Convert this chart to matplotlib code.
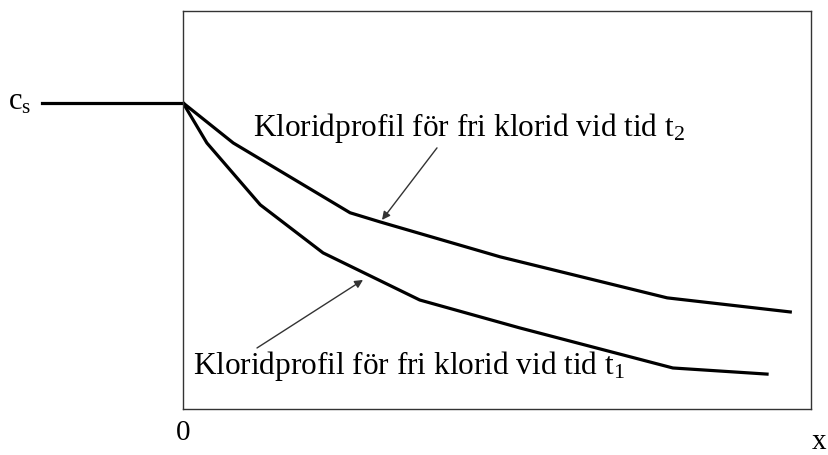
import matplotlib
matplotlib.use("Agg")
import matplotlib.pyplot as plt

plt.rcParams['font.family'] = ['Liberation Serif', 'DejaVu Serif']
plt.rcParams['mathtext.fontset'] = 'custom'
plt.rcParams['mathtext.rm'] = 'Liberation Serif'
plt.rcParams['mathtext.it'] = 'Liberation Serif:italic'

# Profile t2 (upper curve): depth x (relative) and concentration c/cs
x_t2 = [0.0, 0.080, 0.266, 0.314, 0.505, 0.771, 0.967]
c_t2 = [1.0, 0.869, 0.641, 0.611, 0.497, 0.363, 0.317]
# Profile t1 (lower curve)
x_t1 = [0.0, 0.038, 0.123, 0.223, 0.377, 0.536, 0.780, 0.930]
c_t1 = [1.0, 0.869, 0.667, 0.510, 0.356, 0.265, 0.134, 0.114]
# Surface concentration line (outside the concrete)
x_cs = [-0.225, 0.0]
c_cs = [1.0, 1.0]

label_t2 = "Kloridprofil för fri klorid vid tid t$_\\mathrm{2}$"
label_t1 = "Kloridprofil för fri klorid vid tid t$_\\mathrm{1}$"

fig = plt.figure(figsize=(8.29, 4.55), dpi=100)
ax = fig.add_axes([183/829, 1-409/455, (811-183)/829, (409-11)/455])
ax.set_xlim(0, 1)
ax.set_ylim(0, 1.3)
ax.set_xticks([])
ax.set_yticks([])
for s in ax.spines.values():
    s.set_linewidth(1.0)
    s.set_color('#333333')

lw = 2.3
ax.plot(x_t2, c_t2, color='black', lw=lw, solid_joinstyle='round')
ax.plot(x_t1, c_t1, color='black', lw=lw, solid_joinstyle='round')
ax.plot(x_cs, c_cs, color='black', lw=lw, clip_on=False)

def px(xp, yp):
    return ((xp-183)/628, (409-yp)/306)

ax.annotate("", xy=px(382, 220), xytext=px(437, 148),
            arrowprops=dict(arrowstyle='-|>', color='#333333', lw=1.0,
                            mutation_scale=12, shrinkA=0, shrinkB=0))
ax.annotate("", xy=px(363, 280), xytext=px(257, 348),
            arrowprops=dict(arrowstyle='-|>', color='#333333', lw=1.0,
                            mutation_scale=12, shrinkA=0, shrinkB=0))

fs = 22.5
tx, ty = px(253, 136)
ax.text(tx, ty, label_t2, fontsize=fs, ha='left', va='baseline')
tx, ty = px(193, 374)
ax.text(tx, ty, label_t1, fontsize=fs, ha='left', va='baseline')

fig.text(8/829, 1-110/455, "c$_\\mathrm{s}$", fontsize=22, ha='left', va='baseline')
fig.text(183/829, 1-440/455, "0", fontsize=21, ha='center', va='baseline')
fig.text(819/829, 1-449/455, "x", fontsize=21, ha='center', va='baseline')

fig.savefig("out.png", dpi=100)
